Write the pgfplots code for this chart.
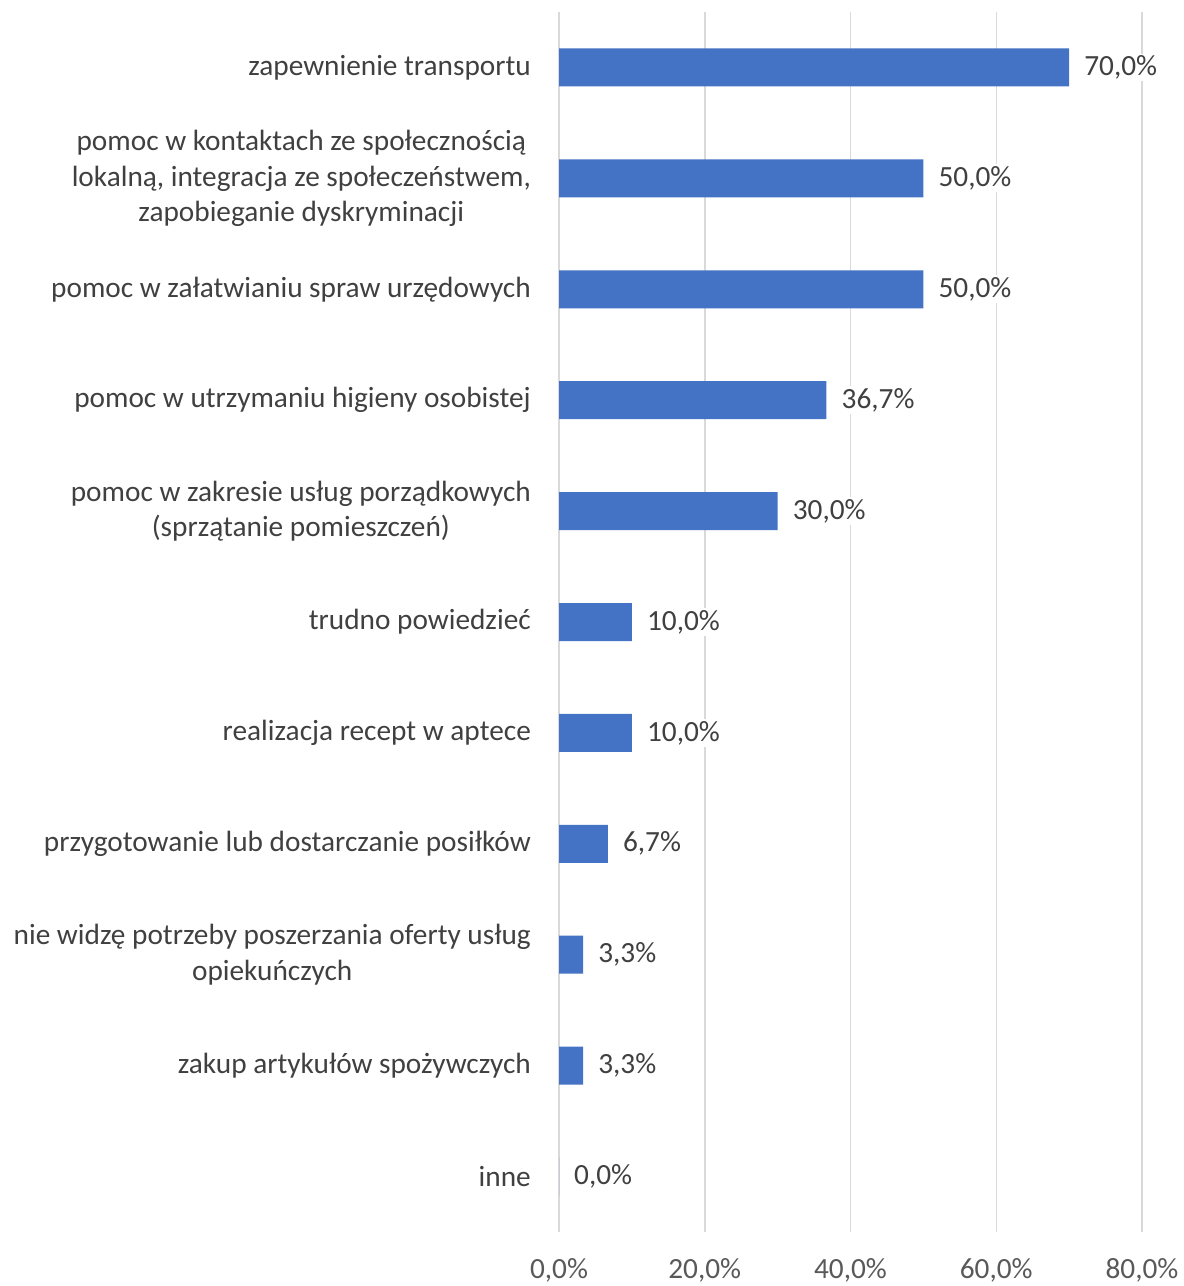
\documentclass[border=0pt]{standalone}
\usepackage{pgfplots}
\pgfplotsset{compat=1.18}
\usepackage{fontspec}
\setmainfont{Carlito}
\definecolor{barblue}{HTML}{4472C4}
\definecolor{txt}{HTML}{404040}
\definecolor{tickc}{HTML}{595959}
\definecolor{gridgray}{HTML}{D9D9D9}
\begin{document}
\fontsize{29.3bp}{35.5bp}\selectfont
\begin{tikzpicture}
\begin{axis}[
  scale only axis,
  width=583bp, height=1220bp,
  xmin=0, xmax=80,
  ymin=-0.5, ymax=10.5,
  y dir=reverse,
  xbar,
  bar width=38bp,
  axis line style={draw=none},
  major tick length=0pt,
  tick style={draw=none},
  xtick={0,20,40,60,80},
  xmajorgrids,
  ymajorgrids=false,
  grid style={draw=gridgray, line width=1.5bp},
  ytick={0,...,10},
  yticklabels={
    {zapewnienie transportu},
    {pomoc w kontaktach ze społecznością\\lokalną, integracja ze społeczeństwem,\\zapobieganie dyskryminacji},
    {pomoc w załatwianiu spraw urzędowych},
    {pomoc w utrzymaniu higieny osobistej},
    {pomoc w zakresie usług porządkowych\\(sprzątanie pomieszczeń)},
    {trudno powiedzieć},
    {realizacja recept w aptece},
    {przygotowanie lub dostarczanie posiłków},
    {nie widzę potrzeby poszerzania oferty usług\\opiekuńczych},
    {zakup artykułów spożywczych},
    {inne}},
  yticklabel style={align=center, anchor=east, inner sep=0pt, xshift=-28bp, text=txt, font=\fontsize{29.3bp}{35.5bp}\selectfont},
  /pgf/number format/assume math mode=true,
  xticklabel={\pgfmathprintnumber[fixed,fixed zerofill,precision=1,use comma]{\tick}\%},
  xticklabel style={text=tickc, inner sep=0pt, anchor=center, yshift=-38bp, font=\fontsize{29.3bp}{35.5bp}\selectfont},
  nodes near coords={\pgfmathprintnumber[fixed,fixed zerofill,precision=1,use comma]{\pgfplotspointmeta}\%},
  point meta=x,
  nodes near coords style={anchor=west, fill=white, inner sep=2bp, xshift=13bp, text=txt, font=\fontsize{29.3bp}{35.5bp}\selectfont},
]
\addplot[fill=barblue, draw=none] coordinates {
  (70,0) (50,1) (50,2) (36.7,3) (30,4) (10,5) (10,6) (6.7,7) (3.3,8) (3.3,9) (0,10)
};
\end{axis}
\pgfresetboundingbox
\path[use as bounding box] ([shift={(-559bp,-54bp)}]current axis.south west) rectangle ([shift={(41bp,12bp)}]current axis.north east);
\end{tikzpicture}
\end{document}
